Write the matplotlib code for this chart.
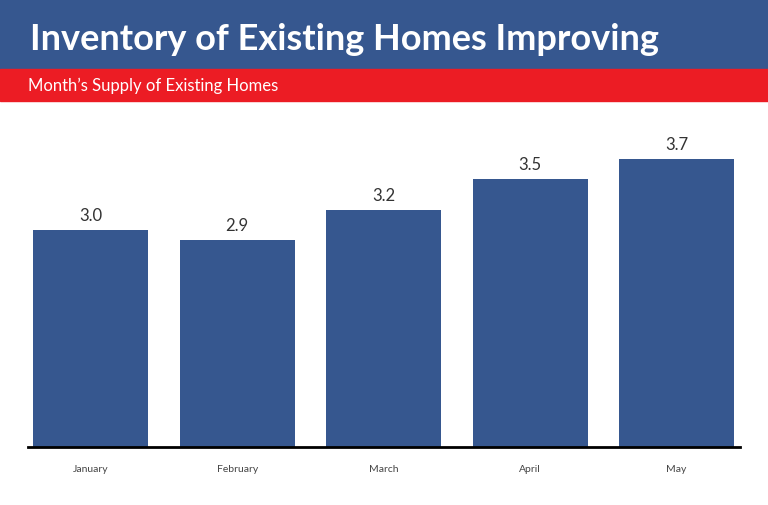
import matplotlib.pyplot as plt
from matplotlib.patches import Rectangle

months = ['January', 'February', 'March', 'April', 'May']
supply = [3.0, 2.9, 3.2, 3.5, 3.7]
value_labels = ['3.0', '2.9', '3.2', '3.5', '3.7']

title = 'Inventory of Existing Homes Improving'
subtitle = 'Month\u2019s Supply of Existing Homes'

blue = '#36578f'
red = '#ec1c24'

fig = plt.figure(figsize=(7.68, 5.06), dpi=100)

# header bands
fig.patches.append(Rectangle((0, 1 - 70 / 506), 1, 70 / 506, transform=fig.transFigure,
                             color=blue, zorder=0))
fig.patches.append(Rectangle((0, 1 - 102 / 506), 1, 32 / 506, transform=fig.transFigure,
                             color=red, zorder=0))
fig.text(30 / 768, 1 - 40 / 506, title, color='white', fontsize=26, fontweight='bold',
         family='Lato', va='center', ha='left')
fig.text(28 / 768, 1 - 86 / 506, subtitle, color='white', fontsize=12,
         family='Lato', va='center', ha='left')

ax = fig.add_axes([28 / 768, 57.7 / 506, 712 / 768, 317 / 506])
x = range(len(months))
bars = ax.bar(x, supply, width=0.786, color=blue)
ax.set_ylim(0.86, 3.98)
ax.set_xlim(-0.429, 4.434)

for b, lab in zip(bars, value_labels):
    ax.annotate(lab, (b.get_x() + b.get_width() / 2, b.get_height()),
                xytext=(0, 5), textcoords='offset points', ha='center', va='bottom',
                fontsize=12, color='#333333', family='Lato')

ax.set_xticks(list(x))
ax.set_xticklabels(months, fontsize=7.5, color='#444444', family='Lato')
ax.tick_params(axis='x', length=0, pad=12)
ax.set_yticks([])
for s in ['top', 'right', 'left']:
    ax.spines[s].set_visible(False)
ax.spines['bottom'].set_linewidth(2)
ax.spines['bottom'].set_color('black')

fig.savefig('out.png', dpi=100)
